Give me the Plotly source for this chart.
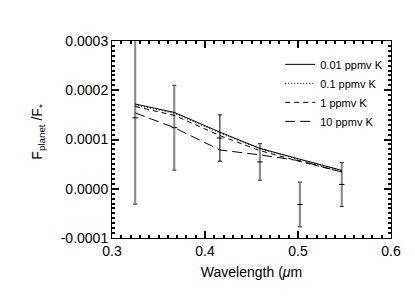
import plotly.graph_objects as go

# Observed points
wl_obs = [0.325, 0.367, 0.416, 0.459, 0.502, 0.547]
flux_obs = [0.000144, 0.000124, 0.000103, 0.0000545, -0.000032, 0.0000088]
err_obs = [0.000175, 0.000086, 0.000047, 0.0000370, 0.0000454, 0.0000446]
grey_idx = [0, 1, 3, 4, 5]

# Model curves
wl_mod = [0.325, 0.367, 0.416, 0.459, 0.502, 0.547]
mod_001 = [0.000172, 0.000155, 0.000115, 0.0000820, 0.0000600, 0.0000374]
mod_01 = [0.000170, 0.000153, 0.000113, 0.0000810, 0.0000590, 0.0000370]
mod_1 = [0.000167, 0.000149, 0.000108, 0.0000774, 0.0000554, 0.0000344]
mod_10 = [0.000154, 0.000124, 0.0000788, 0.0000688, 0.0000568, 0.0000340]

labels = ["0.01 ppmv K", "0.1 ppmv K", "1 ppmv K", "10 ppmv K"]
dashes = ["solid", "1px,2px", "5px,4px", "10px,5px"]

y_tickvals = [-0.0001, 0, 0.0001, 0.0002, 0.0003]
y_ticktext = ["-0.0001", "0.0000", "0.0001", "0.0002", "0.0003"]

FONT = "Liberation Sans, Arial, Helvetica, sans-serif"
CLEAR = "rgba(0,0,0,0)"

fig = go.Figure()

def sub(lst, idx):
    return [lst[i] for i in idx]

# black thin bars + caps (all points)
fig.add_trace(go.Scatter(
    x=wl_obs, y=flux_obs, mode="markers",
    marker=dict(size=0.1, color=CLEAR),
    error_y=dict(type="data", array=err_obs, color="black", thickness=1, width=2),
    showlegend=False, hoverinfo="skip"))
# grey thick bars overlaid (no caps)
fig.add_trace(go.Scatter(
    x=sub(wl_obs, grey_idx), y=sub(flux_obs, grey_idx), mode="markers",
    marker=dict(size=0.1, color=CLEAR),
    error_y=dict(type="data", array=sub(err_obs, grey_idx), color="#8a8a8a", thickness=2, width=0),
    showlegend=False, hoverinfo="skip"))
# center ticks on top
fig.add_trace(go.Scatter(
    x=wl_obs, y=flux_obs, mode="markers",
    marker=dict(symbol="line-ew", size=4, color="black", line=dict(color="black", width=1)),
    showlegend=False, hoverinfo="skip"))

for ys, lab, d in zip([mod_001, mod_01, mod_1, mod_10], labels, dashes):
    fig.add_trace(go.Scatter(
        x=wl_mod, y=ys, mode="lines", name=lab,
        line=dict(color="black", width=1, dash=d)))

fig.update_xaxes(
    range=[0.3, 0.6], tickmode="linear", tick0=0.3, dtick=0.1, tickformat=".1f",
    showline=True, linecolor="black", mirror="ticks",
    ticks="inside", ticklen=7, tickcolor="black", tickwidth=2,
    gridcolor=CLEAR, zerolinecolor=CLEAR, automargin=False,
    tickfont=dict(family=FONT, size=14, color="black"),
    minor=dict(ticks="inside", ticklen=3, tickcolor="black", tickwidth=2,
               dtick=0.01, tick0=0.3, gridcolor=CLEAR),
    title=dict(text="Wavelength (<i>μ</i>m", font=dict(family=FONT, size=14, color="black"), standoff=9))
fig.update_yaxes(
    range=[-0.0001, 0.0003], tickmode="array", tickvals=y_tickvals, ticktext=y_ticktext,
    showline=True, linecolor="black", mirror="ticks",
    ticks="inside", ticklen=7, tickcolor="black", tickwidth=2,
    gridcolor=CLEAR, zerolinecolor=CLEAR, automargin=False,
    tickfont=dict(family=FONT, size=14, color="black"),
    minor=dict(ticks="inside", ticklen=3, tickcolor="black", tickwidth=2,
               dtick=0.00001, tick0=0, gridcolor=CLEAR))

fig.add_annotation(
    text="F<sub>planet</sub> /F<sub>*</sub>", textangle=-90,
    xref="paper", yref="paper", x=-0.265, y=0.54, xanchor="center", yanchor="middle",
    showarrow=False, font=dict(family=FONT, size=14, color="black"))

fig.update_layout(
    width=415, height=297,
    margin=dict(l=104, r=32, t=33, b=67),
    paper_bgcolor="white", plot_bgcolor="white",
    font=dict(family=FONT, size=14, color="black"),
    legend=dict(x=0.99, y=0.955, xanchor="right", yanchor="top",
                bgcolor=CLEAR, borderwidth=0,
                font=dict(family=FONT, size=11, color="black"),
                itemwidth=30, tracegroupgap=0),
)

fig.write_html("out.html")
